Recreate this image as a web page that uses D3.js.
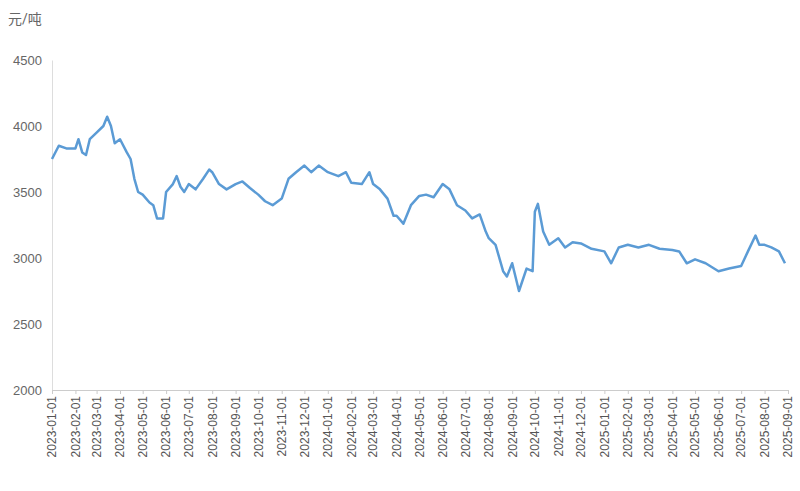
<!DOCTYPE html>
<html><head><meta charset="utf-8">
<script src="https://cdn.jsdelivr.net/npm/d3@7"></script>
<style>body{margin:0;background:#fff}</style>
</head><body><div id="chart"></div>
<script>
var dates = ["2023-01-01","2023-01-10","2023-01-20","2023-02-01","2023-02-05","2023-02-10","2023-02-15","2023-02-20","2023-03-01","2023-03-10","2023-03-15","2023-03-20","2023-03-25","2023-04-01","2023-04-10","2023-04-15","2023-04-20","2023-04-25","2023-05-01","2023-05-10","2023-05-15","2023-05-20","2023-05-28","2023-06-01","2023-06-10","2023-06-15","2023-06-20","2023-06-25","2023-07-01","2023-07-10","2023-07-20","2023-07-28","2023-08-01","2023-08-10","2023-08-20","2023-09-01","2023-09-10","2023-09-20","2023-10-01","2023-10-10","2023-10-20","2023-11-01","2023-11-10","2023-11-20","2023-12-01","2023-12-10","2023-12-20","2024-01-01","2024-01-15","2024-01-25","2024-02-01","2024-02-15","2024-02-25","2024-03-01","2024-03-10","2024-03-20","2024-03-28","2024-04-01","2024-04-10","2024-04-20","2024-05-01","2024-05-10","2024-05-20","2024-06-01","2024-06-10","2024-06-20","2024-07-01","2024-07-10","2024-07-20","2024-07-28","2024-08-01","2024-08-10","2024-08-20","2024-08-25","2024-09-01","2024-09-10","2024-09-20","2024-09-28","2024-10-01","2024-10-05","2024-10-12","2024-10-20","2024-11-01","2024-11-10","2024-11-20","2024-12-01","2024-12-15","2025-01-01","2025-01-10","2025-01-20","2025-02-01","2025-02-15","2025-03-01","2025-03-15","2025-04-01","2025-04-10","2025-04-20","2025-05-01","2025-05-15","2025-06-01","2025-06-15","2025-07-01","2025-07-10","2025-07-20","2025-07-25","2025-08-01","2025-08-10","2025-08-20","2025-08-28"];
var prices = [3750,3850,3830,3830,3900,3800,3780,3900,3950,4000,4070,4000,3870,3900,3800,3750,3600,3500,3480,3420,3400,3300,3300,3500,3560,3620,3540,3500,3560,3520,3600,3670,3650,3560,3520,3560,3580,3530,3480,3430,3400,3450,3600,3650,3700,3650,3700,3650,3620,3650,3570,3560,3650,3560,3520,3450,3320,3320,3260,3400,3470,3480,3460,3560,3520,3400,3360,3300,3330,3200,3150,3100,2900,2860,2960,2750,2920,2900,3350,3410,3200,3100,3150,3080,3120,3110,3070,3050,2960,3080,3100,3080,3100,3070,3060,3050,2960,2990,2960,2900,2920,2940,3050,3170,3100,3100,3080,3050,2960];
var yTicks = [2000,2500,3000,3500,4000,4500];
var months = d3.timeMonths(new Date(2023,0,1), new Date(2025,8,2));

var W = 800, H = 491, m = {l:52, r:12, t:60, b:101};
var svg = d3.select("#chart").append("svg").attr("width", W).attr("height", H)
  .style("font-family", "Roboto, 'Noto Sans CJK SC', sans-serif");
var p = d3.timeParse("%Y-%m-%d");
var x = d3.scaleTime().domain([new Date(2023,0,1), new Date(2025,8,1)]).range([m.l, W - m.r]);
var y = d3.scaleLinear().domain([2000,4500]).range([H - m.b, m.t]);

svg.append("text").attr("x", 8).attr("y", 24).attr("fill", "#666").attr("font-size", 14).text("元/吨");

var ya = svg.append("g").attr("transform", "translate(" + m.l + ",0)")
  .call(d3.axisLeft(y).tickValues(yTicks).tickFormat(d3.format("d")).tickSize(0).tickPadding(10));
ya.select(".domain").attr("stroke", "#ddd");
ya.selectAll("text").attr("fill", "#666").attr("font-size", 13);

var xa = svg.append("g").attr("transform", "translate(0," + (H - m.b) + ")")
  .call(d3.axisBottom(x).tickValues(months).tickFormat(d3.timeFormat("%Y-%m-%d")).tickSize(4));
xa.select(".domain").attr("stroke", "#ccc");
xa.selectAll("line").attr("stroke", "#ccc");
xa.selectAll("text").attr("fill", "#555").attr("font-size", 12)
  .attr("transform", "rotate(-90)").attr("text-anchor", "end")
  .attr("dx", "-6").attr("dy", "0.32em").attr("x", 0).attr("y", 0);

var line = d3.line().x(function(d, i) { return x(p(dates[i])); }).y(function(d) { return y(d); });
svg.append("path").datum(prices).attr("d", line)
  .attr("fill", "none").attr("stroke", "#5b9bd5").attr("stroke-width", 2.5).attr("stroke-linejoin", "round");
</script></body></html>
